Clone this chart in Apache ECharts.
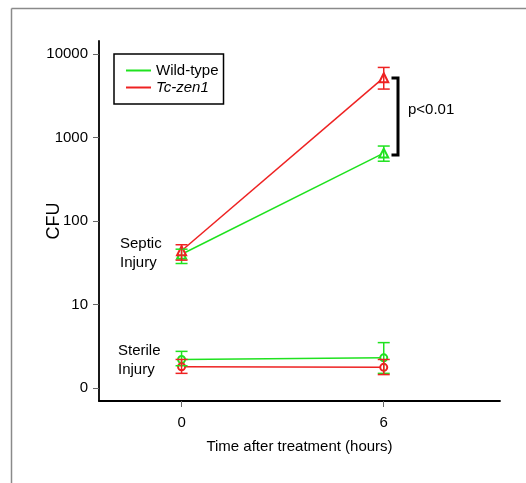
<!DOCTYPE html>
<html>
<head>
<meta charset="utf-8">
<script src="https://cdn.jsdelivr.net/npm/echarts@6/dist/echarts.min.js"></script>
<style>html,body{margin:0;padding:0;background:#fff}#c{width:526px;height:483px}</style>
</head>
<body>
<div id="c"></div>
<script>
const times = [0, 6];
const xTickValues = [0, 6];
const yTickValues = [1, 10, 100, 1000, 10000];
const yTickLabels = ['0', '10', '100', '1000', '10000'];

const septicWT = [40, 650];
const septicWTLow = [31, 520];
const septicWTHigh = [46, 790];
const septicTc = [44, 5200];
const septicTcLow = [34, 3800];
const septicTcHigh = [52, 6900];

const sterileWT = [2.2, 2.3];
const sterileWTLow = [1.85, 1.5];
const sterileWTHigh = [2.75, 3.5];
const sterileTc = [1.8, 1.77];
const sterileTcLow = [1.5, 1.45];
const sterileTcHigh = [2.2, 2.2];

const GREEN = '#1fe21f';
const RED = '#ee2222';
const FONT = '"Liberation Sans", Arial, Helvetica, sans-serif';

function pts(vals) { return times.map((t, i) => [t, vals[i]]); }
function errs(lo, hi) { return times.map((t, i) => [t, lo[i], hi[i]]); }

function errSeries(name, lo, hi, color) {
  return {
    type: 'custom', name: name, data: errs(lo, hi), z: 3,
    encode: { x: 0, y: [1, 2] },
    renderItem: function (params, api) {
      const x = api.value(0);
      const a = api.coord([x, api.value(1)]);
      const b = api.coord([x, api.value(2)]);
      const w = 6;
      const st = { stroke: color, lineWidth: 1.5 };
      return { type: 'group', children: [
        { type: 'line', shape: { x1: a[0], y1: a[1], x2: b[0], y2: b[1] }, style: st },
        { type: 'line', shape: { x1: a[0] - w, y1: a[1], x2: a[0] + w, y2: a[1] }, style: st },
        { type: 'line', shape: { x1: b[0] - w, y1: b[1], x2: b[0] + w, y2: b[1] }, style: st }
      ]};
    }
  };
}

function lineSeries(name, vals, color, symbol) {
  return {
    type: 'line', name: name, data: pts(vals), z: 2,
    symbol: symbol, symbolSize: symbol === 'emptyTriangle' ? 9 : 7,
    lineStyle: { color: color, width: 1.5 },
    itemStyle: { color: color, borderWidth: 1.5 },
    emphasis: { disabled: true }, animation: false
  };
}

const chart = echarts.init(document.getElementById('c'), null, { renderer: 'canvas' });
chart.setOption({
  animation: false,
  backgroundColor: '#fff',
  textStyle: { fontFamily: FONT },
  grid: { left: 99, right: 26, top: 41, bottom: 82 },
  legend: {
    left: 114, top: 54, orient: 'vertical',
    data: [{ name: 'Wild-type', icon: 'rect' }, { name: 'Tc-zen1', icon: 'rect' }],
    itemWidth: 25, itemHeight: 2, itemGap: 2,
    padding: [9, 5, 9, 12],
    borderColor: '#000', borderWidth: 1.5,
    textStyle: { fontSize: 15, color: '#000', fontFamily: FONT,
      rich: { i: { fontStyle: 'italic', fontSize: 15, fontFamily: FONT, color: '#000' } } },
    formatter: function (n) { return n === 'Tc-zen1' ? '{i|Tc-zen1}' : n; },
    selectedMode: false
  },
  xAxis: {
    type: 'value', min: -2.45, max: 9.45,
    name: 'Time after treatment (hours)', nameLocation: 'middle', nameGap: 38,
    nameMoveOverlap: false,
    nameTextStyle: { fontSize: 15, color: '#000', fontFamily: FONT },
    axisLine: { onZero: false, lineStyle: { color: '#000', width: 1.8 } },
    axisTick: { length: 6, lineStyle: { color: '#666' }, customValues: xTickValues },
    axisLabel: { fontSize: 15, color: '#000', margin: 14, customValues: xTickValues },
    splitLine: { show: false }
  },
  yAxis: {
    type: 'log', logBase: 10, min: 0.7, max: 14300,
    name: 'CFU', nameLocation: 'middle', nameGap: 36, nameRotate: 90,
    nameMoveOverlap: false,
    nameTextStyle: { fontSize: 18, color: '#000', fontFamily: FONT },
    axisLine: { show: true, onZero: false, lineStyle: { color: '#000', width: 1.8 } },
    axisTick: { show: true, length: 6, lineStyle: { color: '#666' }, customValues: yTickValues },
    axisLabel: { fontSize: 15, color: '#000', margin: 11, customValues: yTickValues,
      formatter: function (v) { const i = yTickValues.indexOf(v); return i >= 0 ? yTickLabels[i] : ''; } },
    splitLine: { show: false }
  },
  series: [
    lineSeries('Wild-type', septicWT, GREEN, 'emptyTriangle'),
    lineSeries('Tc-zen1', septicTc, RED, 'emptyTriangle'),
    lineSeries('Wild-type', sterileWT, GREEN, 'emptyCircle'),
    lineSeries('Tc-zen1', sterileTc, RED, 'emptyCircle'),
    errSeries('Wild-type', septicWTLow, septicWTHigh, GREEN),
    errSeries('Tc-zen1', septicTcLow, septicTcHigh, RED),
    errSeries('Wild-type', sterileWTLow, sterileWTHigh, GREEN),
    errSeries('Tc-zen1', sterileTcLow, sterileTcHigh, RED)
  ],
  graphic: [
    { type: 'line', shape: { x1: 11.5, y1: 8.5, x2: 11.5, y2: 483 }, style: { stroke: '#8a8a8a', lineWidth: 1.5 } },
    { type: 'line', shape: { x1: 11.5, y1: 8.5, x2: 526, y2: 8.5 }, style: { stroke: '#8a8a8a', lineWidth: 1.5 } },
    { type: 'text', left: 120, top: 234, style: { text: 'Septic\nInjury', font: '15px ' + FONT, fill: '#000', lineHeight: 19 } },
    { type: 'text', left: 118, top: 341, style: { text: 'Sterile\nInjury', font: '15px ' + FONT, fill: '#000', lineHeight: 19 } },
    { type: 'text', left: 408, top: 102, style: { text: 'p<0.01', font: '15px ' + FONT, fill: '#000' } },
    { type: 'polyline', shape: { points: [[391.5, 78], [398, 78], [398, 155], [391.5, 155]] },
      style: { stroke: '#000', lineWidth: 3, fill: null } }
  ]
});
</script>
</body>
</html>
